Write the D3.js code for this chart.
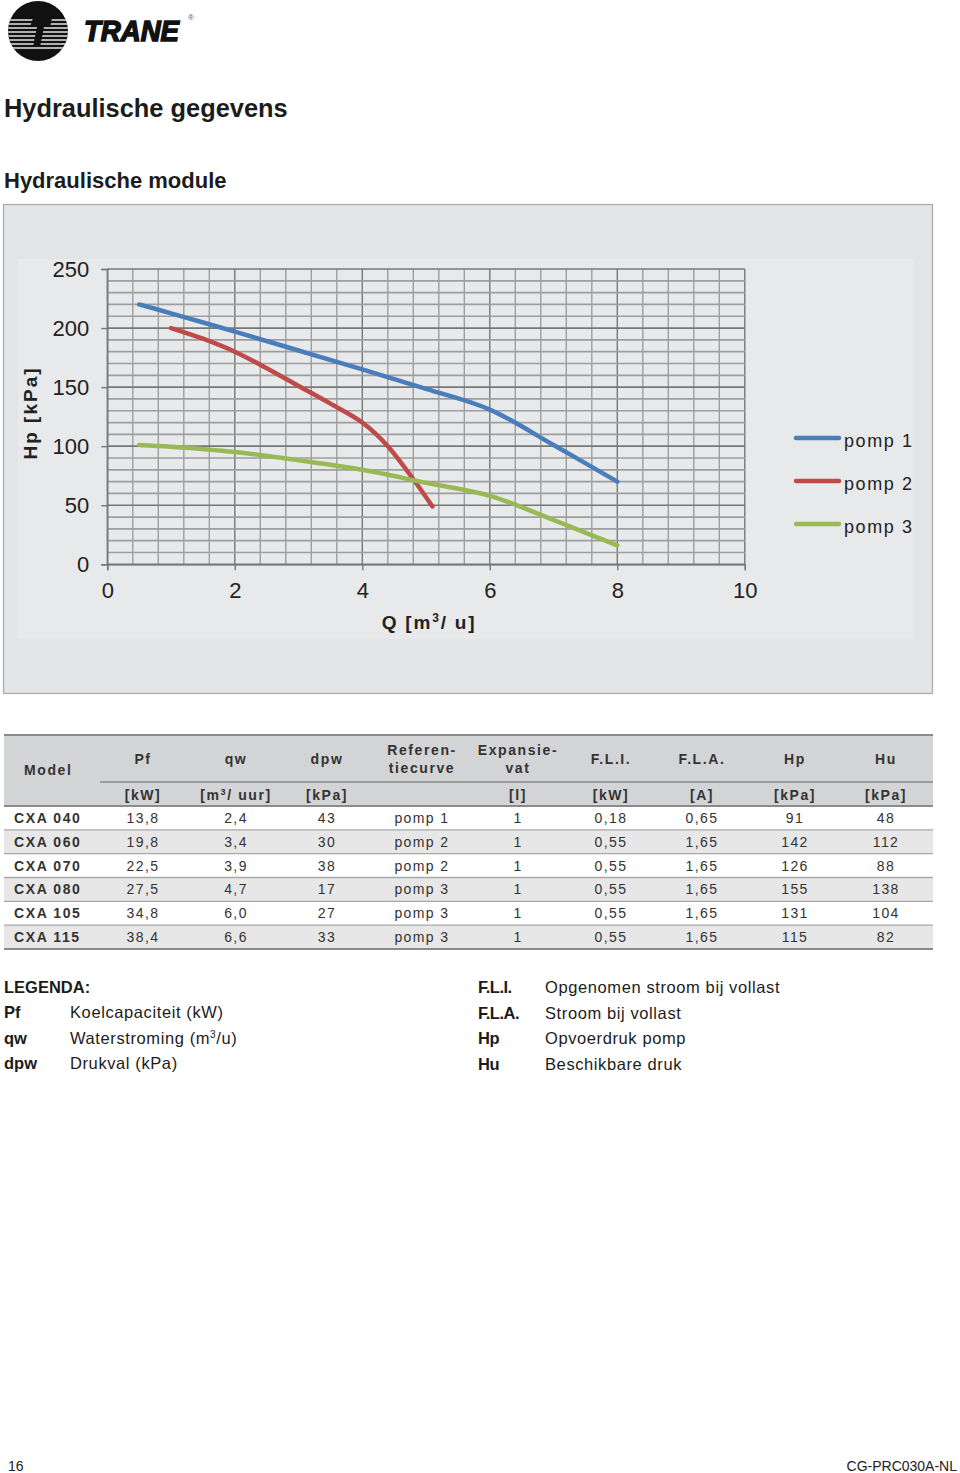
<!DOCTYPE html>
<html><head><meta charset="utf-8">
<script src="https://cdn.jsdelivr.net/npm/d3@7"></script>
<style>
html,body{margin:0;padding:0;background:#fff;}
svg{display:block;font-family:"Liberation Sans",Arial,sans-serif;}
</style></head>
<body>
<script>
// ---------- DATA ----------
const xTicks = [0, 2, 4, 6, 8, 10];
const yTicks = [0, 50, 100, 150, 200, 250];
const seriesNames = ["pomp 1", "pomp 2", "pomp 3"];
const pomp1 = [[0.5,220],[1,212.5],[2,197],[3,181],[4,165],[5,148.5],[6,131],[7,101],[8,70]];
const pomp2 = [[1,200],[1.5,191],[2,180],[2.5,166],[3,151],[3.5,136],[4,120],[4.4,100],[4.8,72],[5.1,49]];
const pomp3 = [[0.5,101],[1,99.5],[2,95],[3,88],[4,80],[5,69],[6,58],[7,37.5],[8,16]];
const seriesColors = ["#4a7ebb", "#be4b48", "#98b954"];

const tableModels = ["CXA 040","CXA 060","CXA 070","CXA 080","CXA 105","CXA 115"];
const colPf   = ["13,8","19,8","22,5","27,5","34,8","38,4"];
const colQw   = ["2,4","3,4","3,9","4,7","6,0","6,6"];
const colDpw  = ["43","30","38","17","27","33"];
const colRef  = ["pomp 1","pomp 2","pomp 2","pomp 3","pomp 3","pomp 3"];
const colExp  = ["1","1","1","1","1","1"];
const colFLI  = ["0,18","0,55","0,55","0,55","0,55","0,55"];
const colFLA  = ["0,65","1,65","1,65","1,65","1,65","1,65"];
const colHp   = ["91","142","126","155","131","115"];
const colHu   = ["48","112","88","138","104","82"];
const headTop = [["Pf"],["qw"],["dpw"],["Referen-","tiecurve"],["Expansie-","vat"],["F.L.I."],["F.L.A."],["Hp"],["Hu"]];
const headUnits = ["[kW]","[m³/ uur]","[kPa]","","[l]","[kW]","[A]","[kPa]","[kPa]"];
const legendLeft = [["Pf","Koelcapaciteit (kW)"],["qw","Waterstroming (m³/u)"],["dpw","Drukval (kPa)"]];
const legendRight = [["F.L.I.","Opgenomen stroom bij vollast"],["F.L.A.","Stroom bij vollast"],["Hp","Opvoerdruk pomp"],["Hu","Beschikbare druk"]];

// ---------- SVG ----------
const W = 960, H = 1473;
const svg = d3.select("body").append("svg").attr("width", W).attr("height", H);

// Logo
const logo = svg.append("g");
const defs = svg.append("defs");
defs.append("clipPath").attr("id","lc").append("circle").attr("cx",38).attr("cy",31).attr("r",30);
logo.append("circle").attr("cx",38).attr("cy",31).attr("r",30).attr("fill","#111");
const stripes = logo.append("g").attr("clip-path","url(#lc)");
const stripeYs = [20,24,28,32,36,40,44,48];
stripeYs.forEach((y,i)=>{
  stripes.append("line").attr("x1",6).attr("x2",70).attr("y1",y).attr("y2",y)
    .attr("stroke","#e4e4e4").attr("stroke-width",1.4);
});
stripes.append("path").attr("d","M33,18 L52,18 L50,27 L44,27 L40,47 L33,47 L37,27 L30,27 Z").attr("fill","#111");
logo.append("text").attr("x",84).attr("y",41).attr("font-size",30).attr("font-weight",900)
  .attr("font-style","italic").attr("textLength",95).attr("lengthAdjust","spacingAndGlyphs")
  .attr("fill","#111").attr("stroke","#111").attr("stroke-width",1.6).text("TRANE");
logo.append("text").attr("x",188).attr("y",20).attr("font-size",8).attr("fill","#555").text("®");

// Titles
svg.append("text").attr("x",4).attr("y",117).attr("font-size",25.4).attr("font-weight","bold")
  .attr("fill","#1c1c1c").text("Hydraulische gegevens");
svg.append("text").attr("x",4).attr("y",188).attr("font-size",22).attr("font-weight","bold")
  .attr("fill","#1c1c1c").text("Hydraulische module");

// Chart panel
svg.append("rect").attr("x",3.5).attr("y",204.5).attr("width",929).attr("height",489)
  .attr("fill","#e3e4e6").attr("stroke","#a9a9a9").attr("stroke-width",1.2);
svg.append("rect").attr("x",18).attr("y",259).attr("width",896).attr("height",380).attr("fill","#e8e9eb");

const x = d3.scaleLinear().domain([0,10]).range([107.3,744.8]);
const y = d3.scaleLinear().domain([0,250]).range([564.3,269]);
const plot = svg.append("g");

// grid
const minorX = d3.range(0, 10.0001, 0.4);
const minorY = d3.range(0, 250.0001, 10);
plot.selectAll(".gx").data(minorX).join("line")
  .attr("x1",d=>x(d)).attr("x2",d=>x(d)).attr("y1",y(250)).attr("y2",y(0))
  .attr("stroke",d=> (Math.abs(d/2-Math.round(d/2))<1e-6) ? "#777" : "#9e9e9e")
  .attr("stroke-width",1.4);
plot.selectAll(".gy").data(minorY).join("line")
  .attr("x1",x(0)).attr("x2",x(10)).attr("y1",d=>y(d)).attr("y2",d=>y(d))
  .attr("stroke",d=> d%50===0 ? "#777" : "#9e9e9e")
  .attr("stroke-width",1.7);

// axes via d3
const yAxis = d3.axisLeft(y).tickValues(yTicks).tickSize(6).tickPadding(12);
const gy = plot.append("g").attr("transform",`translate(${x(0)},0)`).call(yAxis);
gy.select(".domain").attr("stroke","#777").attr("stroke-width",1.4);
gy.selectAll(".tick line").attr("stroke","#777").attr("stroke-width",1.4);
gy.selectAll(".tick text").attr("font-size",22).attr("fill","#222")
  .attr("font-family","'Liberation Sans',Arial,sans-serif");

const xAxis = d3.axisBottom(x).tickValues(xTicks).tickSize(6).tickPadding(12);
const gx = plot.append("g").attr("transform",`translate(0,${y(0)})`).call(xAxis);
gx.select(".domain").attr("stroke","#777").attr("stroke-width",1.4);
gx.selectAll(".tick line").attr("stroke","#777").attr("stroke-width",1.4);
gx.selectAll(".tick text").attr("font-size",22).attr("fill","#222")
  .attr("font-family","'Liberation Sans',Arial,sans-serif");

// Axis titles
svg.append("text").attr("transform","translate(37,413) rotate(-90)").attr("text-anchor","middle")
  .attr("font-size",19).attr("font-weight","bold").attr("letter-spacing",2).attr("fill","#222")
  .text("Hp [kPa]");
const qt = svg.append("text").attr("x",429).attr("y",629).attr("text-anchor","middle")
  .attr("font-size",19).attr("font-weight","bold").attr("letter-spacing",1.8).attr("fill","#222");
qt.append("tspan").text("Q [m");
qt.append("tspan").attr("font-size",12).attr("dy",-7).text("3");
qt.append("tspan").attr("dy",7).text("/ u]");

// Curves
const line = d3.line().x(d=>x(d[0])).y(d=>y(d[1])).curve(d3.curveCatmullRom.alpha(0.5));
[pomp1,pomp2,pomp3].forEach((s,i)=>{
  plot.append("path").attr("d",line(s)).attr("fill","none").attr("stroke",seriesColors[i])
    .attr("stroke-width",4.5).attr("stroke-linecap","round");
});

// Legend
const lg = svg.append("g");
seriesNames.forEach((n,i)=>{
  const ly = 438 + i*43;
  lg.append("line").attr("x1",796).attr("x2",839).attr("y1",ly).attr("y2",ly)
    .attr("stroke",seriesColors[i]).attr("stroke-width",4.5).attr("stroke-linecap","round");
  lg.append("text").attr("x",844).attr("y",ly+9).attr("font-size",18).attr("letter-spacing",1.6)
    .attr("fill","#222").text(n);
});

// ---------- TABLE ----------
const tb = svg.append("g").attr("fill","#333");
const tX0 = 4, tX1 = 933;
const hTop = 735, hMid = 782, hBot = 806, rowH = 23.83;
const colX = [143,236,327,422,518,611,702,795,886];
tb.append("rect").attr("x",tX0).attr("y",hTop).attr("width",tX1-tX0).attr("height",hBot-hTop).attr("fill","#d3d4d6");
tableModels.forEach((m,i)=>{
  if (i%2===1) tb.append("rect").attr("x",tX0).attr("y",hBot+i*rowH).attr("width",tX1-tX0).attr("height",rowH).attr("fill","#e7e7e8");
});
tb.append("line").attr("x1",tX0).attr("x2",tX1).attr("y1",hTop).attr("y2",hTop).attr("stroke","#8a8a8a").attr("stroke-width",2);
tb.append("line").attr("x1",100).attr("x2",tX1).attr("y1",hMid).attr("y2",hMid).attr("stroke","#8a8a8a").attr("stroke-width",1.5);
for (let i=0;i<=6;i++){
  tb.append("line").attr("x1",tX0).attr("x2",tX1).attr("y1",hBot+i*rowH).attr("y2",hBot+i*rowH)
    .attr("stroke", i===0||i===6 ? "#8a8a8a" : "#a8a8a8").attr("stroke-width", i===0||i===6 ? 2 : 1.3);
}
const hs = {"font-size":14,"font-weight":"bold","letter-spacing":1.6,"fill":"#333"};
function applyAttrs(sel,obj){Object.entries(obj).forEach(([k,v])=>sel.attr(k,v));return sel;}
applyAttrs(tb.append("text").attr("x",24).attr("y",775),hs).text("Model");
headTop.forEach((lines,i)=>{
  if (lines.length===1){
    applyAttrs(tb.append("text").attr("x",colX[i]).attr("y",764).attr("text-anchor","middle"),hs).text(lines[0]);
  } else {
    applyAttrs(tb.append("text").attr("x",colX[i]).attr("y",755).attr("text-anchor","middle"),hs).text(lines[0]);
    applyAttrs(tb.append("text").attr("x",colX[i]).attr("y",773).attr("text-anchor","middle"),hs).text(lines[1]);
  }
});
headUnits.forEach((u,i)=>{
  if (!u) return;
  const t = applyAttrs(tb.append("text").attr("x",colX[i]).attr("y",800).attr("text-anchor","middle"),hs);
  if (u.includes("³")){
    const parts = u.split("³");
    t.append("tspan").text(parts[0]);
    t.append("tspan").attr("font-size",9).attr("dy",-5).text("3");
    t.append("tspan").attr("dy",5).text(parts[1]);
  } else t.text(u);
});
const cols = [colPf,colQw,colDpw,colRef,colExp,colFLI,colFLA,colHp,colHu];
tableModels.forEach((m,r)=>{
  const cy = hBot + r*rowH + rowH/2 + 5;
  applyAttrs(tb.append("text").attr("x",14).attr("y",cy),hs).text(m);
  cols.forEach((c,j)=>{
    tb.append("text").attr("x",colX[j]).attr("y",cy).attr("text-anchor","middle")
      .attr("font-size",14).attr("letter-spacing",1.4).attr("fill","#333").text(c[r]);
  });
});

// ---------- LEGEND TEXT ----------
const lgd = svg.append("g").attr("fill","#1c1c1c").attr("font-size",16.5);
lgd.append("text").attr("x",4).attr("y",993).attr("font-weight","bold").text("LEGENDA:");
function supText(sel, s){
  if (s.includes("³")){
    const p = s.split("³");
    sel.append("tspan").text(p[0]);
    sel.append("tspan").attr("font-size",10).attr("dy",-6).text("3");
    sel.append("tspan").attr("dy",6).text(p[1]);
  } else sel.text(s);
}
legendLeft.forEach((d,i)=>{
  const ly = 1018 + i*25.5;
  lgd.append("text").attr("x",4).attr("y",ly).attr("font-weight","bold").text(d[0]);
  supText(lgd.append("text").attr("x",70).attr("y",ly).attr("letter-spacing",0.6), d[1]);
});
legendRight.forEach((d,i)=>{
  const ly = 993 + i*25.5;
  lgd.append("text").attr("x",478).attr("y",ly).attr("font-weight","bold").attr("letter-spacing",-0.5).text(d[0]);
  lgd.append("text").attr("x",545).attr("y",ly).attr("letter-spacing",0.6).text(d[1]);
});

// Footer
svg.append("text").attr("x",8).attr("y",1471).attr("font-size",14).attr("fill","#222").text("16");
svg.append("text").attr("x",957).attr("y",1471).attr("text-anchor","end").attr("font-size",14).attr("fill","#222").text("CG-PRC030A-NL");
</script>
</body></html>
